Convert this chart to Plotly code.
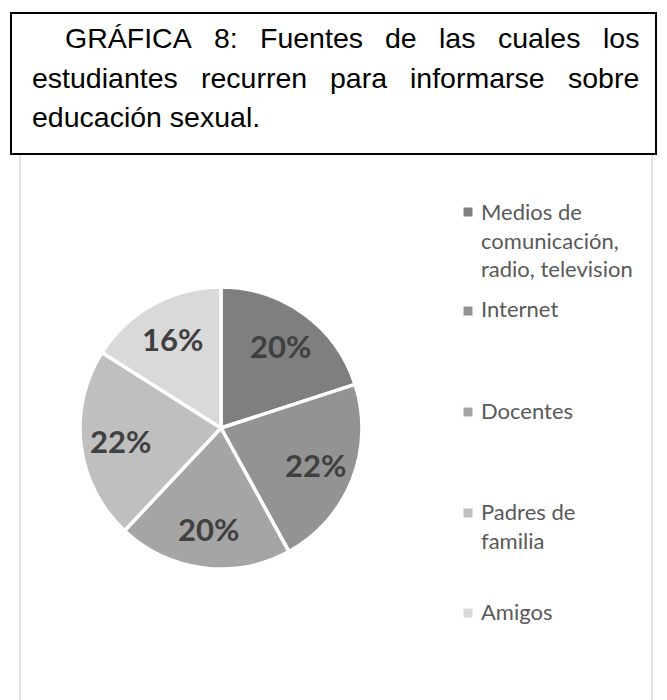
import math
import plotly.graph_objects as go

# ---- data ----
categories = ["Medios de comunicación, radio, television", "Internet", "Docentes",
              "Padres de familia", "Amigos"]
legend_labels = ["Medios de<br>comunicación,<br>radio, television", "Internet", "Docentes",
                 "Padres de<br>familia", "Amigos"]
values = [20, 22, 20, 22, 16]
colors = ["#7f7f7f", "#939393", "#a5a5a5", "#bfbfbf", "#d9d9d9"]

title_lines = [
    ["GRÁFICA", "8:", "Fuentes", "de", "las", "cuales", "los"],
    ["estudiantes", "recurren", "para", "informarse", "sobre"],
    ["educación sexual."],
]

# ---- layout helpers (pixel -> paper) ----
W, H = 667, 700
def px(x):
    return x / W
def py(y):
    return 1 - y / H

# Arial / Liberation Sans advance widths (per 1000 em) for justification
ARIAL = {"G": 778, "R": 722, "Á": 667, "F": 611, "I": 278, "C": 722, "A": 667, "8": 556,
         ":": 278, "u": 556, "e": 556, "n": 556, "t": 278, "s": 500, "d": 556, "l": 222,
         "a": 556, "c": 500, "o": 556, "i": 222, "p": 556, "r": 333, "m": 833, "f": 278,
         "b": 556, "x": 500, "ó": 556, ".": 278, " ": 278}
def text_w(s, size):
    return sum(ARIAL.get(ch, 556) for ch in s) * size / 1000.0

TITLE_SIZE = 28.5
line_left = [56, 23, 23]
line_right = 630
line_y = [30, 70, 109]

# pie geometry (pixels)
cx, cy, r = 213, 420, 141

fig = go.Figure()
fig.add_trace(go.Pie(
    labels=categories,
    values=values,
    sort=False,
    direction="clockwise",
    rotation=0,
    marker=dict(colors=colors, line=dict(color="white", width=3.5)),
    textinfo="none",
    hoverinfo="label+percent",
    showlegend=False,
    domain=dict(x=[px(cx - r), px(cx + r)], y=[py(cy + r), py(cy - r)]),
))

shapes = []
# chart frame (light gray)
shapes.append(dict(type="rect", xref="paper", yref="paper",
                   x0=px(12), x1=px(644), y0=py(720), y1=py(146),
                   line=dict(color="#d9d9d9", width=1.5), fillcolor="rgba(0,0,0,0)", layer="below"))
# title box
shapes.append(dict(type="rect", xref="paper", yref="paper",
                   x0=px(3), x1=px(648), y0=py(146), y1=py(5),
                   line=dict(color="black", width=2), fillcolor="white", layer="above"))

annotations = []
# title words (justified)
for li, words in enumerate(title_lines):
    y = line_y[li]
    left = line_left[li]
    widths = [text_w(w, TITLE_SIZE) for w in words]
    if li < len(title_lines) - 1 and len(words) > 1:
        gap = (line_right - left - sum(widths)) / (len(words) - 1)
    else:
        gap = 0
    x = left
    for w, wd in zip(words, widths):
        annotations.append(dict(text=w, x=px(x), y=py(y), xref="paper", yref="paper",
                                xanchor="left", yanchor="middle", showarrow=False,
                                borderpad=0,
                                font=dict(family="Liberation Sans, Arial", size=TITLE_SIZE,
                                          color="black")))
        x += wd + gap

# data labels (percent) at slice mid-angles
total = sum(values)
cum = 0
for v in values:
    mid = (cum + v / 2) / total * 2 * math.pi
    cum += v
    rho = 0.72 * r
    lx = cx + rho * math.sin(mid)
    ly = cy - rho * math.cos(mid)
    annotations.append(dict(text=f"{v / total:.0%}", x=px(lx), y=py(ly), xref="paper", yref="paper",
                            xanchor="center", yanchor="middle", showarrow=False,
                            font=dict(family="Lato", size=31, color="#404040", weight="bold")))

# legend (Excel-style distributed)
leg_y = [231.5, 301, 402, 517.5, 603]
leg_sq_y = [204, 303, 404, 505, 605]
for lab, col, y, sy in zip(legend_labels, colors, leg_y, leg_sq_y):
    shapes.append(dict(type="rect", xref="paper", yref="paper",
                       x0=px(455.5), x1=px(464.5), y0=py(sy + 4.5), y1=py(sy - 4.5),
                       line=dict(width=0), fillcolor=col))
    annotations.append(dict(text=lab, x=px(471), y=py(y), xref="paper", yref="paper",
                            xanchor="left", yanchor="middle", align="left", showarrow=False,
                            font=dict(family="Lato", size=22, color="#595959")))

fig.update_layout(
    width=W, height=H,
    margin=dict(l=0, r=0, t=0, b=0),
    paper_bgcolor="white",
    plot_bgcolor="white",
    shapes=shapes,
    annotations=annotations,
)

fig.write_html("out.html")
